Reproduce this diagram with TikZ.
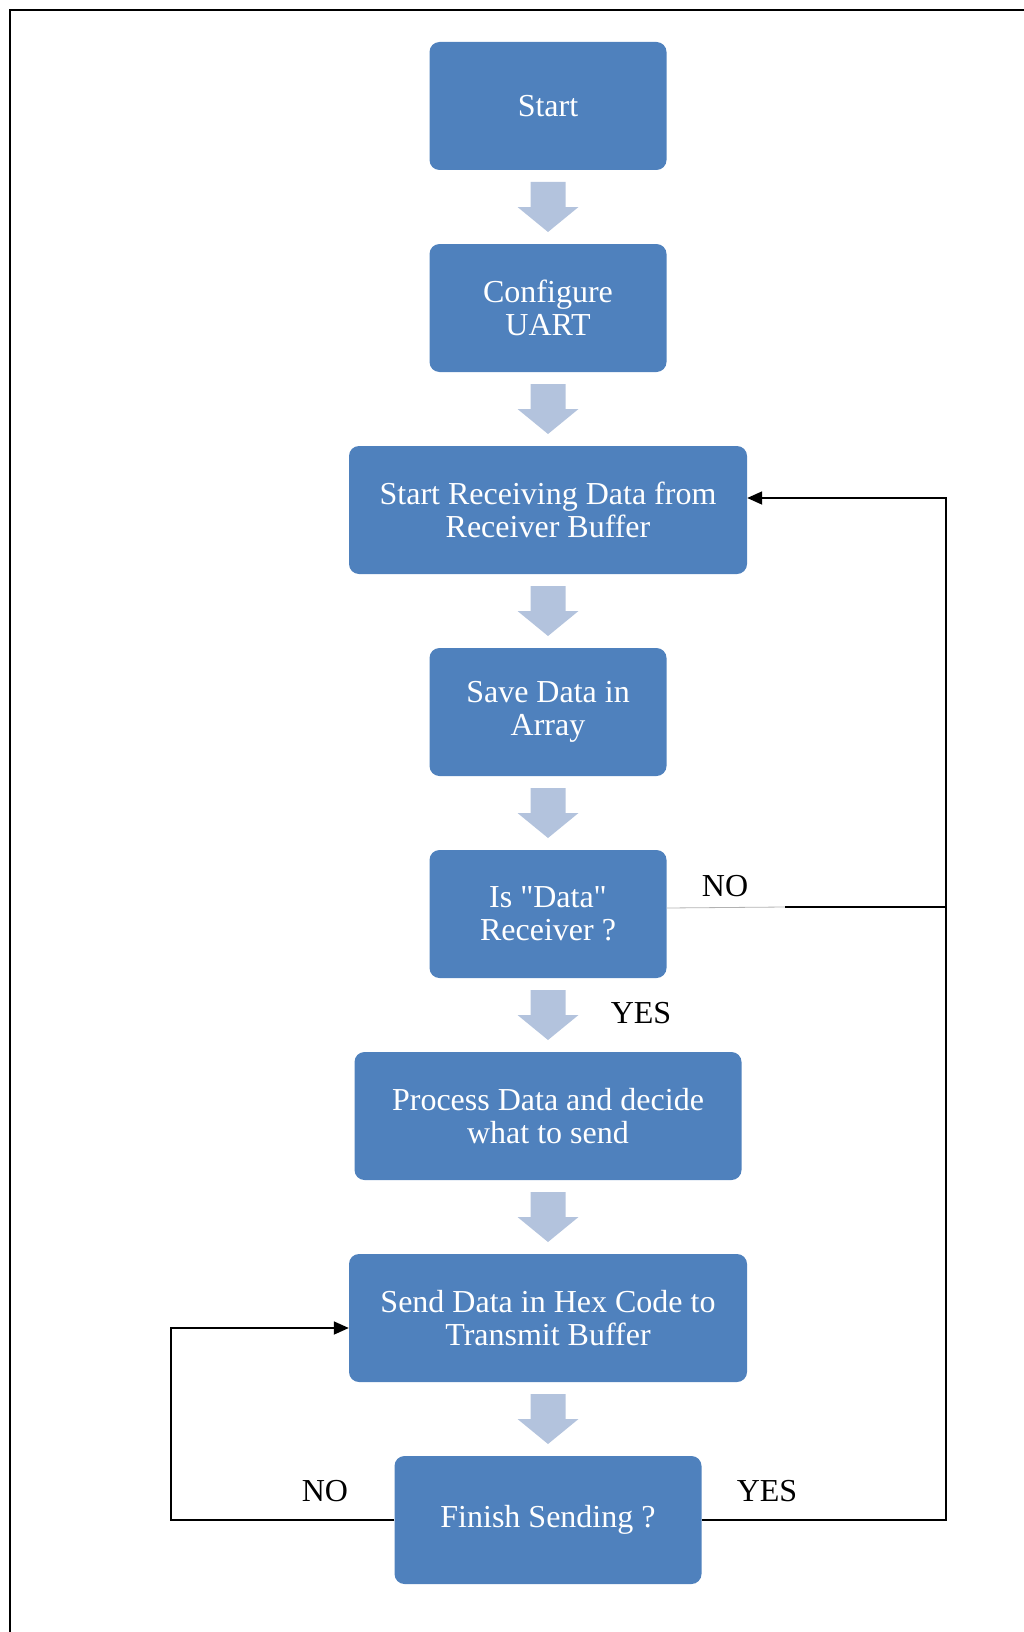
\documentclass[tikz,border=0pt]{standalone}
\usepackage{fontspec}
\setmainfont{Liberation Serif}
\usetikzlibrary{positioning, arrows.meta, calc}

\definecolor{boxblue}{HTML}{4F81BD}
\definecolor{arrowblue}{HTML}{B3C3DD}

\tikzset{
  stepbox/.style={rectangle, rounded corners=10pt, fill=boxblue, text=white,
    minimum height=128pt, align=center,
    font=\fontsize{32}{33}\selectfont},
  loopline/.style={line width=1.8pt, black},
  tag/.style={font=\fontsize{32}{33}\selectfont}
}

% fat down arrow half way between two boxes
\newcommand\flowarrow[2]{%
  \fill[arrowblue] ($(#1.south)!.5!(#2.north)$)
    +(-17.5,25) -- +(17.5,25) -- +(17.5,0) -- +(30.5,0)
    -- +(0,-25) -- +(-30.5,0) -- +(-17.5,0) -- cycle;}

\begin{document}
\begin{tikzpicture}[x=1pt,y=1pt,node distance=202pt,on grid]
  \useasboundingbox (0,0) rectangle (1024,-1632);
  \draw[line width=1.8pt] (1024,-10) -- (10,-10) -- (10,-1632);

  \node[stepbox, minimum width=237pt] (start) at (548,-106) {Start};
  \node[stepbox, minimum width=237pt] (uart) [below=of start] {Configure\\UART};
  \node[stepbox, minimum width=398pt] (recv) [below=of uart] {Start Receiving Data from\\Receiver Buffer};
  \node[stepbox, minimum width=237pt] (save) [below=of recv] {Save Data in\\Array};
  \node[stepbox, minimum width=237pt] (isdata) [below=of save] {Is \textquotedbl Data\textquotedbl\\Receiver ?};
  \node[stepbox, minimum width=387pt] (proc) [below=of isdata] {Process Data and decide\\what to send};
  \node[stepbox, minimum width=398pt] (send) [below=of proc] {Send Data in Hex Code to\\Transmit Buffer};
  \node[stepbox, minimum width=307pt] (finish) [below=of send] {Finish Sending ?};

  \foreach \a/\b in {start/uart, uart/recv, recv/save, save/isdata,
                     isdata/proc, proc/send, send/finish}
    \flowarrow{\a}{\b};

  \coordinate (rcorner) at (946,-1520);
  \coordinate (lcorner) at (171,-1520);
  \coordinate (nojoin) at (785,-907);

  % data check fails: back to receiving
  \draw[line width=0.8pt, black!30] ([yshift=6pt]isdata.east) -- (nojoin);
  \draw[loopline] (nojoin) -- (nojoin -| rcorner);
  \draw[loopline, -{Triangle[length=15pt,width=13pt]}]
    (finish.east) -- (rcorner) |- ([yshift=12pt]recv.east);
  \draw[loopline, -{Triangle[length=15pt,width=13pt]}]
    (finish.west) -- (lcorner) |- ([yshift=-10pt]send.west);

  \node[tag] (no1) at (725,-886) {NO};
  \node[tag] (yes1) at (641,-1013) {YES};
  \node[tag] (no2) at (325,-1491) {NO};
  \node[tag] (yes2) at (767,-1491) {YES};
\end{tikzpicture}
\end{document}
